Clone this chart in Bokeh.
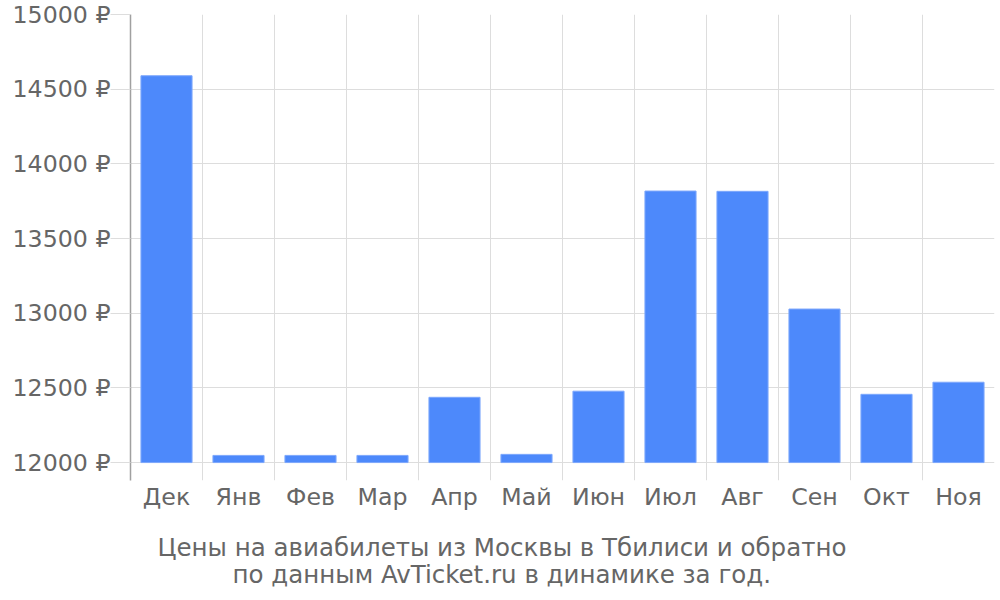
from bokeh.plotting import figure
from bokeh.models import FixedTicker, Range1d, Title, ColumnDataSource
from bokeh.embed import file_html
from bokeh.resources import INLINE

months = ["Дек", "Янв", "Фев", "Мар", "Апр", "Май", "Июн", "Июл", "Авг", "Сен", "Окт", "Ноя"]
prices = [14590, 12048, 12048, 12048, 12437, 12055, 12478, 13818, 13816, 13028, 12457, 12538]
y_ticks = [12000, 12500, 13000, 13500, 14000, 14500, 15000]
title_lines = ["Цены на авиабилеты из Москвы в Тбилиси и обратно",
               "по данным AvTicket.ru в динамике за год."]

FONT = "DejaVu Sans"
GREY = "#666666"

xs = [i + 0.5 for i in range(len(months))]
src = ColumnDataSource(dict(x=xs, top=prices, bottom=[12000] * len(prices)))

p = figure(width=996, height=596, output_backend="svg", toolbar_location=None,
           x_range=Range1d(0, len(months)), y_range=Range1d(11880, 15000),
           min_border_left=130, min_border_right=2, min_border_top=14, min_border_bottom=116)
p.outline_line_color = None

p.vbar(x="x", top="top", bottom="bottom", width=0.71, source=src,
       fill_color="#4d89fb", line_color="#7ea8fc", line_width=1)

# x axis: labels at centers, tick lines at boundaries
p.xaxis.ticker = FixedTicker(ticks=xs, minor_ticks=list(range(len(months) + 1)))
p.xaxis.major_label_overrides = {x: m for x, m in zip(xs, months)}
p.xaxis.major_tick_line_color = None
p.xaxis.major_tick_out = 0
p.xaxis.major_tick_in = 0
p.xaxis.minor_tick_out = 0
p.xaxis.minor_tick_in = 0
p.xaxis.axis_line_color = None
p.xaxis.major_label_text_font = FONT
p.xaxis.major_label_text_font_size = "23.7px"
p.xaxis.major_label_text_color = GREY
p.xaxis.major_label_standoff = 2

p.xgrid.ticker = FixedTicker(ticks=list(range(len(months) + 1)))
p.xgrid.grid_line_color = "#dddddd"
p.xgrid.grid_line_width = 1

# y axis
p.yaxis.ticker = FixedTicker(ticks=y_ticks)
p.yaxis.major_label_overrides = {v: f"{v} ₽" for v in y_ticks}
p.yaxis.major_tick_out = 20
p.yaxis.major_tick_in = 0
p.yaxis.major_tick_line_color = "#dddddd"
p.yaxis.minor_tick_line_color = None
p.yaxis.axis_line_color = "#a0a0a0"
p.yaxis.axis_line_width = 1.5
p.yaxis.major_label_text_font = FONT
p.yaxis.major_label_text_font_size = "23.7px"
p.yaxis.major_label_text_color = GREY
p.yaxis.major_label_standoff = 0

p.ygrid.ticker = FixedTicker(ticks=y_ticks)
p.ygrid.grid_line_color = "#dddddd"

# spacer, then the two caption lines
p.add_layout(Title(text=" ", text_font_size="1px", standoff=14), "below")
p.add_layout(Title(text=title_lines[0], align="left", offset=27, text_font=FONT,
                   text_font_size="24.5px", text_color=GREY, text_font_style="normal",
                   standoff=0), "below")
p.add_layout(Title(text=title_lines[1], align="left", offset=102, text_font=FONT,
                   text_font_size="24.5px", text_color=GREY, text_font_style="normal",
                   vertical_align="top", standoff=-3), "below")

open("out.html", "w").write(file_html(p, INLINE))
